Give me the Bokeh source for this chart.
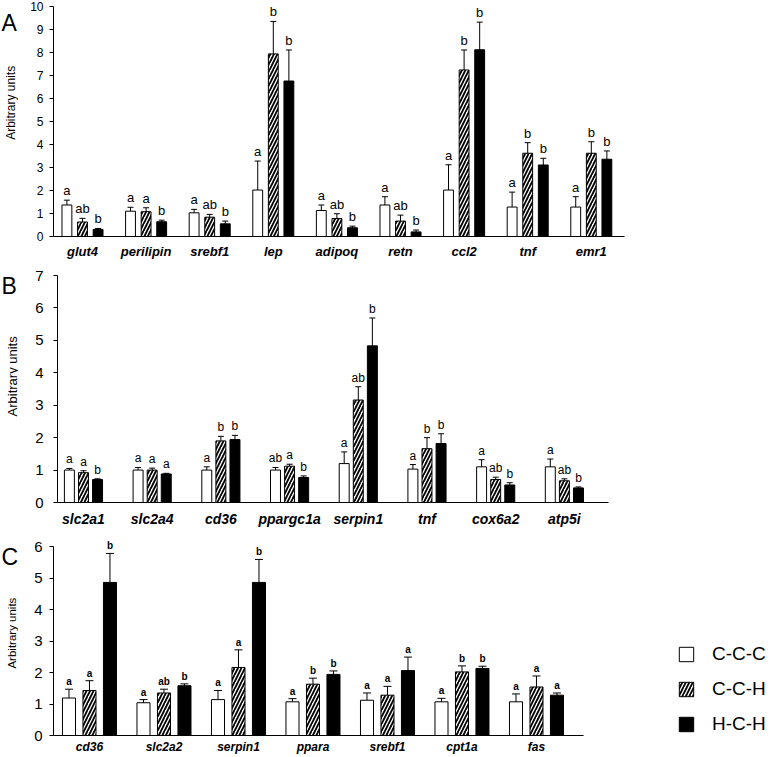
import numpy as np
from bokeh.plotting import figure
from bokeh.models import (ColumnDataSource, Range1d, FixedTicker, Whisker, TeeHead,
                          LabelSet, Legend, LegendItem)
from bokeh.layouts import column, row
from bokeh.core.properties import value
from bokeh.embed import file_html
from bokeh.resources import INLINE

FONT = "Liberation Sans"
SERIES = ["C-C-C", "C-C-H", "H-C-H"]
YTITLE = "Arbitrary units"

# ---------------- Panel A ----------------
A_genes = ["glut4", "perilipin", "srebf1", "lep", "adipoq", "retn", "ccl2", "tnf", "emr1"]
A_ccc = [1.37, 1.10, 1.03, 2.02, 1.13, 1.37, 2.02, 1.28, 1.28]
A_ccc_err = [0.21, 0.17, 0.15, 1.26, 0.24, 0.36, 1.10, 0.65, 0.45]
A_cch = [0.63, 1.08, 0.84, 7.94, 0.78, 0.67, 7.24, 3.62, 3.62]
A_cch_err = [0.16, 0.17, 0.12, 1.41, 0.21, 0.26, 0.87, 0.46, 0.50]
A_hch = [0.31, 0.64, 0.55, 6.76, 0.38, 0.20, 8.12, 3.11, 3.36]
A_hch_err = [0.04, 0.07, 0.12, 1.35, 0.07, 0.08, 1.20, 0.29, 0.36]
A_sig_ccc = ["a", "a", "a", "a", "a", "a", "a", "a", "a"]
A_sig_cch = ["ab", "a", "ab", "b", "ab", "ab", "b", "b", "b"]
A_sig_hch = ["b", "b", "b", "b", "b", "b", "b", "b", "b"]

# ---------------- Panel B ----------------
B_genes = ["slc2a1", "slc2a4", "cd36", "ppargc1a", "serpin1", "tnf", "cox6a2", "atp5i"]
B_ccc = [1.00, 1.00, 1.00, 1.00, 1.20, 1.03, 1.10, 1.10]
B_ccc_err = [0.05, 0.08, 0.10, 0.08, 0.36, 0.14, 0.22, 0.24]
B_cch = [0.92, 1.00, 1.90, 1.12, 3.16, 1.66, 0.71, 0.67]
B_cch_err = [0.06, 0.06, 0.14, 0.06, 0.41, 0.34, 0.07, 0.06]
B_hch = [0.71, 0.88, 1.94, 0.77, 4.83, 1.82, 0.54, 0.45]
B_hch_err = [0.02, 0.02, 0.13, 0.05, 0.86, 0.30, 0.07, 0.03]
B_sig_ccc = ["a", "a", "a", "ab", "a", "a", "a", "a"]
B_sig_cch = ["a", "a", "b", "a", "ab", "b", "ab", "ab"]
B_sig_hch = ["b", "a", "b", "b", "b", "b", "b", "b"]

# ---------------- Panel C ----------------
C_genes = ["cd36", "slc2a2", "serpin1", "ppara", "srebf1", "cpt1a", "fas"]
C_ccc = [1.19, 1.04, 1.14, 1.07, 1.12, 1.07, 1.07]
C_ccc_err = [0.28, 0.10, 0.29, 0.10, 0.23, 0.11, 0.25]
C_cch = [1.43, 1.35, 2.16, 1.63, 1.28, 2.02, 1.54]
C_cch_err = [0.31, 0.12, 0.56, 0.19, 0.28, 0.19, 0.35]
C_hch = [4.86, 1.58, 4.86, 1.94, 2.06, 2.13, 1.28]
C_hch_err = [0.92, 0.06, 0.73, 0.11, 0.43, 0.07, 0.07]
C_sig_ccc = ["a", "a", "a", "a", "a", "a", "a"]
C_sig_cch = ["a", "ab", "a", "b", "a", "b", "a"]
C_sig_hch = ["b", "b", "b", "b", "a", "b", "a"]

STYLES = [
    dict(fill_color="white"),
    dict(fill_color="white", hatch_pattern="/", hatch_color="black",
         hatch_scale=7, hatch_weight=1.8),
    dict(fill_color="black"),
]

STRIP_W = 18


def panel(genes, series, ymax, cfg):
    n = len(genes)
    idx = np.arange(n, dtype=float)
    p = figure(frame_width=cfg["fw"], frame_height=cfg["fh"],
               x_range=Range1d(cfg["x0"], cfg["xv"]), y_range=Range1d(0, cfg["yv"]),
               output_backend="svg", toolbar_location=None,
               min_border_left=cfg["bl"], min_border_right=cfg["br"],
               min_border_top=cfg["bt"], min_border_bottom=cfg["bb"])
    p.outline_line_color = None
    p.grid.visible = False
    p.background_fill_color = None
    p.border_fill_color = None

    offs = [-cfg["off"], 0.0, cfg["off"]]
    renderers = []
    for (vals, errs, sigs), dx, style in zip(series, offs, STYLES):
        vals = np.array(vals, dtype=float)
        errs = np.array(errs, dtype=float)
        src = ColumnDataSource(dict(x=idx + dx, top=vals, hi=vals + errs,
                                    lo=vals - errs, sig=sigs))
        r = p.vbar(x="x", top="top", width=cfg["bw"], line_color="black",
                   line_width=1, source=src, **style)
        renderers.append(r)
        p.add_layout(Whisker(source=src, base="x", upper="hi", lower="lo",
                             line_color="black", line_width=1,
                             upper_head=TeeHead(size=cfg["cap"], line_color="black", line_width=1),
                             lower_head=TeeHead(size=cfg["cap"], line_color="black", line_width=1)))
        p.add_layout(LabelSet(x="x", y="hi", text="sig", source=src, text_align="center",
                              text_baseline="bottom", y_offset=2, text_color="black",
                              text_font=value(FONT), text_font_size=value(cfg["sig_size"]),
                              text_font_style=cfg["sig_style"]))

    yax = p.yaxis[0]
    yax.ticker = FixedTicker(ticks=list(range(0, ymax + 1)), minor_ticks=[])
    yax.bounds = (0, ymax)
    yax.major_tick_out = 4
    yax.major_tick_in = 0
    yax.minor_tick_line_color = None
    yax.axis_line_color = "black"
    yax.major_tick_line_color = "black"
    yax.major_label_standoff = cfg["ystand"]
    yax.major_label_text_font = FONT
    yax.major_label_text_font_size = cfg["ytick"]
    yax.major_label_text_color = "black"

    xax = p.xaxis[0]
    xax.ticker = FixedTicker(ticks=list(range(n)), minor_ticks=[])
    xax.bounds = (cfg["x0"], cfg["x1"])
    xax.major_label_overrides = {i: g for i, g in enumerate(genes)}
    xax.major_tick_line_color = None
    xax.major_tick_out = 0
    xax.major_tick_in = 0
    xax.minor_tick_line_color = None
    xax.axis_line_color = "black"
    xax.major_label_standoff = cfg["xstand"]
    xax.major_label_text_font = FONT
    xax.major_label_text_font_style = "bold italic"
    xax.major_label_text_font_size = cfg["xlab"]
    xax.major_label_text_color = "black"
    return p, renderers


def side(letter, height, cfg):
    """Narrow strip left of a panel holding the panel letter and the y-axis title."""
    s = figure(width=STRIP_W, height=height, x_range=Range1d(0, STRIP_W),
               y_range=Range1d(0, height), x_axis_type=None, y_axis_type=None,
               toolbar_location=None, output_backend="svg", min_border=0)
    s.outline_line_color = None
    s.grid.visible = False
    s.background_fill_color = None
    s.border_fill_color = None
    s.text(x=[1], y=[height - cfg["let_y"]], text=[letter], text_font=value(FONT),
           text_font_size=value("23px"), text_color="black",
           text_align="left", text_baseline="alphabetic")
    s.text(x=[cfg["tit_x"]], y=[height - cfg["tit_y"]], text=[YTITLE], angle=np.pi / 2,
           text_font=value(FONT), text_font_size=value(cfg["ytitle"]), text_color="black",
           text_align="center", text_baseline="middle")
    return s


cfgA = dict(fw=571, fh=230, x0=-0.456, x1=8.522, xv=8.522, yv=10, bl=35, br=10, bt=6, bb=29,
            off=0.245, bw=0.155, cap=6, sig_size="13px", sig_style="normal",
            ystand=6, ytick="12px", ytitle="12px", xstand=7, xlab="13px",
            let_y=19, tit_y=111, tit_x=10.5)
cfgB = dict(fw=551, fh=227, x0=-0.378, x1=7.642, xv=7.642, yv=7, bl=39, br=10, bt=10, bb=33,
            off=0.205, bw=0.145, cap=6, sig_size="12px", sig_style="normal",
            ystand=10, ytick="15px", ytitle="13px", xstand=8, xlab="14px",
            let_y=13, tit_y=120, tit_x=11.5)
# panel C: frame extends right (legend area) and a little above the top tick
cfgC = dict(fw=716, fh=200, x0=-0.483, x1=6.631, xv=-0.483 + 716 / 74.5, yv=6.35,
            bl=35, br=0, bt=0, bb=18,
            off=0.275, bw=0.175, cap=8, sig_size="10px", sig_style="bold",
            ystand=7, ytick="15px", ytitle="11.5px", xstand=4, xlab="12px",
            let_y=24, tit_y=108, tit_x=11.5)

pA, _ = panel(A_genes, [(A_ccc, A_ccc_err, A_sig_ccc), (A_cch, A_cch_err, A_sig_cch),
                        (A_hch, A_hch_err, A_sig_hch)], 10, cfgA)
pB, _ = panel(B_genes, [(B_ccc, B_ccc_err, B_sig_ccc), (B_cch, B_cch_err, B_sig_cch),
                        (B_hch, B_hch_err, B_sig_hch)], 7, cfgB)
pC, rC = panel(C_genes, [(C_ccc, C_ccc_err, C_sig_ccc), (C_cch, C_cch_err, C_sig_cch),
                         (C_hch, C_hch_err, C_sig_hch)], 6, cfgC)

legend = Legend(items=[LegendItem(label=value(nm), renderers=[r]) for nm, r in zip(SERIES, rC)],
                location=(624, 0), glyph_width=18, glyph_height=18,
                label_standoff=17, spacing=13, padding=0, margin=0,
                label_text_font=FONT, label_text_font_size="19px",
                label_text_color="black", border_line_color=None,
                background_fill_alpha=0)
pC.add_layout(legend)

hA = cfgA["bt"] + cfgA["fh"] + cfgA["bb"]
hB = cfgB["bt"] + cfgB["fh"] + cfgB["bb"]
hC = cfgC["bt"] + cfgC["fh"] + cfgC["bb"]

layout = column(row(side("A", hA, cfgA), pA),
                row(side("B", hB, cfgB), pB),
                row(side("C", hC, cfgC), pC))
open("out.html", "w").write(file_html(layout, INLINE))
